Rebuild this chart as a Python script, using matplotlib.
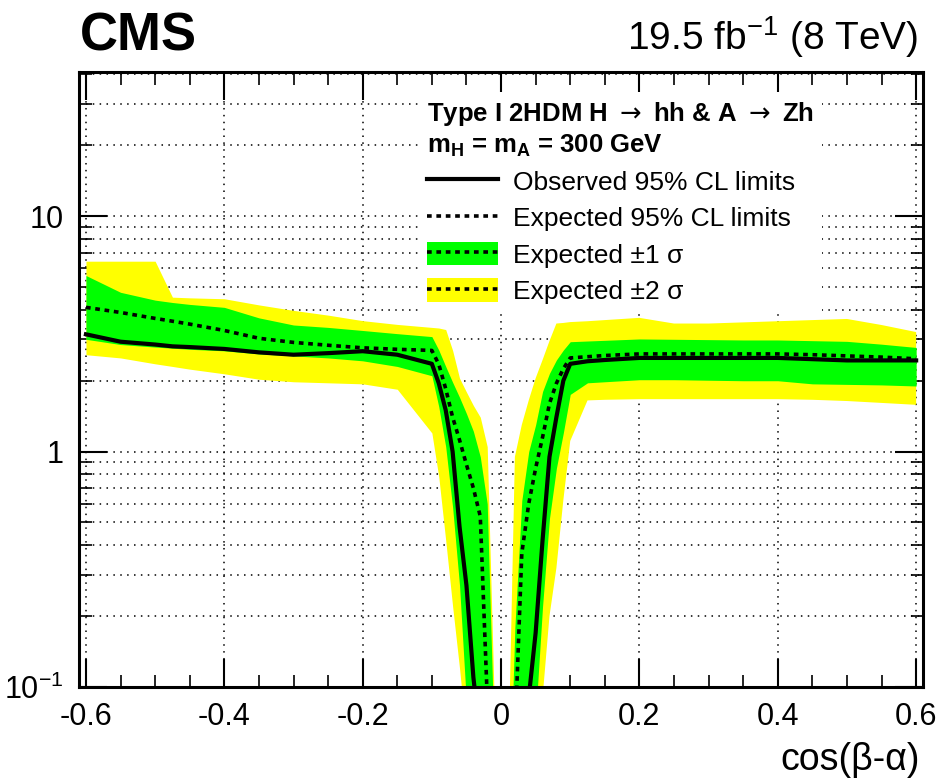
import numpy as np
import matplotlib.pyplot as plt
from matplotlib.lines import Line2D
from matplotlib.patches import Patch
from matplotlib.ticker import LogLocator, NullFormatter

plt.rcParams['mathtext.fontset'] = 'custom'
plt.rcParams['mathtext.rm'] = 'Liberation Sans'
plt.rcParams['mathtext.bf'] = 'Liberation Sans:bold'
plt.rcParams['mathtext.sf'] = 'DejaVu Sans'

narrow = ['Liberation Sans Narrow', 'Liberation Sans', 'DejaVu Sans']
regular = ['Liberation Sans', 'DejaVu Sans']

# --- left branch, cos(beta-alpha) < 0 ---
x_left = [-0.6, -0.55, -0.5, -0.475, -0.45, -0.4, -0.35, -0.3, -0.25, -0.2, -0.15,
          -0.1, -0.09, -0.08, -0.07, -0.06, -0.05, -0.04, -0.03, -0.02, -0.01]
obs_left = [3.15, 2.93, 2.85, 2.8, 2.78, 2.73, 2.64, 2.58, 2.62, 2.67, 2.58,
            2.36, 1.95, 1.5, 1.0, 0.48, 0.27, 0.11, 0.06, 0.03, 0.015]
exp_left = [4.1, 3.9, 3.68, 3.58, 3.48, 3.27, 3.03, 2.91, 2.83, 2.76, 2.72,
            2.69, 2.35, 1.85, 1.4, 1.12, 0.88, 0.70, 0.53, 0.09, 0.02]
p1_left = [5.6, 4.75, 4.4, 4.3, 4.22, 4.1, 3.7, 3.45, 3.37, 3.27, 3.17,
           3.08, 2.7, 2.3, 1.97, 1.7, 1.45, 1.22, 0.95, 0.6, 0.06]
m1_left = [3.0, 2.85, 2.78, 2.75, 2.72, 2.68, 2.6, 2.55, 2.5, 2.43, 2.3,
           2.1, 1.55, 1.05, 0.58, 0.27, 0.085, 0.04, 0.02, 0.01, 0.005]
p2_left = [6.44, 6.44, 6.44, 4.53, 4.5, 4.46, 4.2, 3.98, 3.8, 3.6, 3.47,
           3.37, 3.35, 3.3, 2.69, 2.05, 1.79, 1.57, 1.4, 1.05, 0.09]
m2_left = [2.58, 2.5, 2.36, 2.3, 2.24, 2.14, 2.03, 1.98, 1.96, 1.94, 1.84,
           1.2, 0.78, 0.42, 0.22, 0.12, 0.06, 0.03, 0.015, 0.008, 0.004]

# --- right branch, cos(beta-alpha) > 0 ---
x_right = [0.01, 0.02, 0.03, 0.04, 0.05, 0.06, 0.07, 0.08, 0.09, 0.1, 0.125,
           0.15, 0.2, 0.25, 0.3, 0.35, 0.4, 0.45, 0.5, 0.55, 0.6]
obs_right = [0.005, 0.01, 0.03, 0.09, 0.17, 0.42, 0.95, 1.4, 2.0, 2.36, 2.42,
             2.45, 2.5, 2.5, 2.5, 2.5, 2.5, 2.47, 2.44, 2.44, 2.44]
exp_right = [0.01, 0.06, 0.37, 0.6, 0.85, 1.15, 1.6, 1.95, 2.25, 2.5, 2.53,
             2.56, 2.6, 2.6, 2.6, 2.6, 2.6, 2.58, 2.55, 2.52, 2.48]
p1_right = [0.02, 0.18, 0.62, 1.0, 1.3, 1.8, 2.15, 2.45, 2.7, 2.93, 2.95,
            2.97, 3.01, 3.0, 2.99, 2.98, 2.98, 2.96, 2.94, 2.86, 2.77]
m1_right = [0.002, 0.005, 0.01, 0.03, 0.075, 0.22, 0.52, 0.85, 1.2, 1.75, 1.96,
            1.98, 2.02, 2.02, 2.01, 2.0, 2.0, 1.94, 1.93, 1.92, 1.9]
p2_right = [0.04, 0.95, 1.3, 1.65, 2.05, 2.45, 2.95, 3.5, 3.52, 3.55, 3.58,
            3.62, 3.7, 3.5, 3.5, 3.54, 3.58, 3.62, 3.66, 3.45, 3.22]
m2_right = [0.001, 0.002, 0.005, 0.012, 0.03, 0.09, 0.2, 0.32, 0.62, 1.11, 1.65,
            1.66, 1.67, 1.67, 1.67, 1.67, 1.67, 1.66, 1.64, 1.61, 1.58]

xticks = [-0.6, -0.4, -0.2, 0, 0.2, 0.4, 0.6]
xtick_labels = ['-0.6', '-0.4', '-0.2', '0', '0.2', '0.4', '0.6']
yticks = [0.1, 1, 10]
ytick_labels = ['$10^{-1}$', '1', '10']

green = '#00ff00'
yellow = '#ffff00'
exp_style = (0, (1.3, 1.3))

fig = plt.figure(figsize=(9.42, 7.83), dpi=100)
ax = fig.add_axes([0.0839, 0.1226, 0.896, 0.7855])

branches = [
    (x_left, obs_left, exp_left, p1_left, m1_left, p2_left, m2_left),
    (x_right, obs_right, exp_right, p1_right, m1_right, p2_right, m2_right),
]
for xs, obs, exp, p1, m1, p2, m2 in branches:
    ax.fill_between(xs, m2, p2, color=yellow, lw=0, zorder=1)
    ax.fill_between(xs, m1, p1, color=green, lw=0, zorder=2)
    ax.plot(xs, exp, color='k', lw=2.6, ls=exp_style, zorder=3)
    ax.plot(xs, obs, color='k', lw=3, zorder=4)

ax.set_yscale('log')
ax.set_xlim(-0.61, 0.61)
ax.set_ylim(0.1, 41)

ax.set_xticks(xticks, labels=xtick_labels, fontfamily=narrow, fontsize=22)
ax.set_xticks(np.arange(-0.6, 0.61, 0.05), minor=True)
ax.set_yticks(yticks, labels=ytick_labels, fontfamily=narrow, fontsize=22)
ax.yaxis.set_minor_locator(LogLocator(base=10, subs=np.arange(2, 10)))
ax.yaxis.set_minor_formatter(NullFormatter())

ax.tick_params(which='major', direction='in', length=20, width=1.5,
               top=True, right=True, pad=11)
ax.tick_params(which='minor', direction='in', length=9, width=1.2,
               top=True, right=True)
for s in ax.spines.values():
    s.set_linewidth(2.2)

ax.set_axisbelow(True)
ax.grid(True, which='major', axis='x', color='k', lw=1.1, ls=(0, (1, 3.5)))
ax.grid(True, which='both', axis='y', color='k', lw=1.1, ls=(0, (1, 3.5)))

# legend
h_obs = Line2D([], [], color='k', lw=3)
h_exp = Line2D([], [], color='k', lw=2.6, ls=exp_style)
handles = [h_obs, h_exp, (Patch(facecolor=green), h_exp), (Patch(facecolor=yellow), h_exp)]
labels = ['Observed 95% CL limits', 'Expected 95% CL limits',
          'Expected \u00b11 \u03c3', 'Expected \u00b12 \u03c3']
leg = ax.legend(handles, labels, loc='upper left', bbox_to_anchor=(0.445, 0.882),
                bbox_transform=fig.transFigure, prop={'family': regular, 'size': 19},
                title=r'Type I 2HDM H $\mathsf{\rightarrow}$ hh & A $\mathsf{\rightarrow}$ Zh'
                      '\n' r'$\mathbf{m_H}$ = $\mathbf{m_A}$ = 300 GeV',
                title_fontproperties={'family': regular, 'size': 18.5, 'weight': 'bold'},
                alignment='left', frameon=True, fancybox=False, facecolor='white',
                edgecolor='none', framealpha=1, handlelength=2.7, handleheight=1.0,
                handletextpad=0.55, labelspacing=0.4, borderpad=0.3, borderaxespad=0)

fig.text(0.085, 0.936, 'CMS', fontsize=38, fontweight='bold', family=regular)
fig.text(0.975, 0.936, r'19.5 fb$^{-1}$ (8 TeV)', ha='right', fontsize=28, family=narrow)
fig.text(0.977, 0.016, 'cos(\u03b2-\u03b1)', ha='right', fontsize=27, family=narrow)

fig.savefig('out.png', dpi=100)
